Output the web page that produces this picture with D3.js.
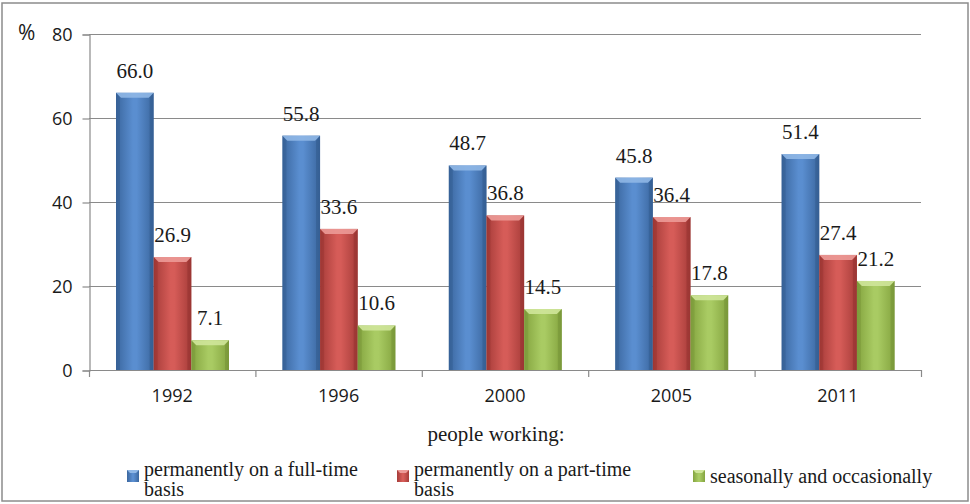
<!DOCTYPE html>
<html>
<head>
<meta charset="utf-8">
<script src="https://cdn.jsdelivr.net/npm/d3@7/dist/d3.min.js"></script>
<style>
  html, body { margin: 0; padding: 0; background: #fff; }
  svg { display: block; }
</style>
</head>
<body>
<svg id="chart" width="970" height="504"></svg>
<script>
const years = ["1992", "1996", "2000", "2005", "2011"];
const fullTime = [66.0, 55.8, 48.7, 45.8, 51.4];
const partTime = [26.9, 33.6, 36.8, 36.4, 27.4];
const seasonal = [7.1, 10.6, 14.5, 17.8, 21.2];
const seriesNames = ["permanently on a full-time basis", "permanently on a part-time basis", "seasonally and occasionally"];
const legendLines = [["permanently on a full-time", "basis"], ["permanently on a part-time", "basis"], ["seasonally and occasionally"]];
const yTicks = [0, 20, 40, 60, 80];
const axisTitle = "people working:";
const yUnit = "%";

const palette = [
  { edge: "#3b679f", mid: "#5a8ed0", light: "#8fb7e6", dark: "#2f5687" },
  { edge: "#a63c39", mid: "#d65c58", light: "#ec9a97", dark: "#8e2f2c" },
  { edge: "#84a43f", mid: "#a9cb63", light: "#cfe59a", dark: "#6f8b33" }
];

const svg = d3.select("#chart");
const defs = svg.append("defs");
palette.forEach((c, i) => {
  const g = defs.append("linearGradient").attr("id", "g" + i).attr("x1", "0").attr("x2", "1").attr("y1", "0").attr("y2", "0");
  g.append("stop").attr("offset", "0").attr("stop-color", c.edge);
  g.append("stop").attr("offset", "0.45").attr("stop-color", c.mid);
  g.append("stop").attr("offset", "0.55").attr("stop-color", c.mid);
  g.append("stop").attr("offset", "1").attr("stop-color", c.edge);
});

// outer border
svg.append("rect").attr("x", 2).attr("y", 3).attr("width", 966).attr("height", 498)
  .attr("fill", "none").attr("stroke", "#8c8c8c").attr("stroke-width", 1.5);

const plot = { left: 89, right: 921, top: 34, bottom: 370 };
const x = d3.scaleBand().domain(years).range([plot.left, plot.right]).padding(0);
const inner = d3.scaleBand().domain(d3.range(3)).range([27, x.bandwidth() - 26.4]).padding(0);
const y = d3.scaleLinear().domain([0, 80]).range([plot.bottom, plot.top]);

const gridColor = "#8a8a8a";
// gridlines
svg.append("g").selectAll("line").data(yTicks.filter(t => t > 0)).join("line")
  .attr("x1", plot.left).attr("x2", plot.right)
  .attr("y1", d => y(d) + 0.5).attr("y2", d => y(d) + 0.5)
  .attr("stroke", gridColor).attr("stroke-width", 1.2);

// y axis
const yAxis = d3.axisLeft(y).tickValues(yTicks).tickSize(7).tickPadding(10).tickFormat(d3.format("d"));
const gy = svg.append("g").attr("transform", `translate(${plot.left + 0.5},0.5)`).call(yAxis);
gy.select(".domain").attr("stroke", gridColor).attr("stroke-width", 1.2);
gy.selectAll(".tick line").attr("stroke", gridColor).attr("stroke-width", 1.2);
gy.selectAll(".tick text").attr("font-family", "'Open Sans', sans-serif").attr("font-size", 18).attr("fill", "#1a1a1a");

svg.append("text").attr("x", 18).attr("y", 40).text(yUnit)
  .attr("font-family", "'Open Sans', sans-serif").attr("font-size", 21).attr("fill", "#1a1a1a");

// bars
const series = [fullTime, partTime, seasonal];
const barsG = svg.append("g");
series.forEach((vals, si) => {
  const c = palette[si];
  const g = barsG.append("g");
  const data = years.map((yr, i) => ({ yr, v: vals[i] }));
  const bx = d => x(d.yr) + inner(si);
  const bw = inner.bandwidth();
  g.selectAll("rect.bar").data(data).join("rect").attr("class", "bar")
    .attr("x", bx).attr("y", d => y(d.v)).attr("width", bw).attr("height", d => y(0) - y(d.v))
    .attr("fill", `url(#g${si})`);
  // top bevel
  g.selectAll("path.top").data(data).join("path").attr("class", "top")
    .attr("d", d => {
      const x0 = bx(d), y0 = y(d.v);
      return `M${x0},${y0}L${x0 + bw},${y0}L${x0 + bw - 5},${y0 + 5}L${x0 + 5},${y0 + 5}Z`;
    }).attr("fill", c.light).attr("opacity", 0.9);
  // side bevels
  g.selectAll("path.left").data(data).join("path").attr("class", "left")
    .attr("d", d => {
      const x0 = bx(d), y0 = y(d.v), y1 = y(0);
      return `M${x0},${y0}L${x0 + 4},${y0 + 5}L${x0 + 4},${y1}L${x0},${y1}Z`;
    }).attr("fill", c.dark).attr("opacity", 0.35);
  g.selectAll("path.right").data(data).join("path").attr("class", "right")
    .attr("d", d => {
      const x0 = bx(d) + bw, y0 = y(d.v), y1 = y(0);
      return `M${x0},${y0}L${x0 - 4},${y0 + 5}L${x0 - 4},${y1}L${x0},${y1}Z`;
    }).attr("fill", c.dark).attr("opacity", 0.45);
  // labels
  g.selectAll("text.lbl").data(data).join("text").attr("class", "lbl")
    .attr("x", d => bx(d) + bw / 2).attr("y", d => y(d.v) - 15)
    .attr("text-anchor", "middle")
    .attr("font-family", "'Liberation Serif', 'Times New Roman', serif").attr("font-size", 21).attr("fill", "#1a1a1a")
    .text(d => d3.format(".1f")(d.v));
});

// x axis
const xTickPositions = years.map(yr => x(yr)).concat([plot.right]);
svg.append("line").attr("x1", plot.left).attr("x2", plot.right).attr("y1", plot.bottom + 0.5).attr("y2", plot.bottom + 0.5)
  .attr("stroke", gridColor).attr("stroke-width", 1.2);
svg.append("g").selectAll("line").data(xTickPositions).join("line")
  .attr("x1", d => d + 0.5).attr("x2", d => d + 0.5).attr("y1", plot.bottom).attr("y2", plot.bottom + 7)
  .attr("stroke", gridColor).attr("stroke-width", 1.2);
svg.append("g").selectAll("text").data(years).join("text")
  .attr("x", d => x(d) + x.bandwidth() / 2).attr("y", 402).attr("text-anchor", "middle")
  .attr("font-family", "'Open Sans', sans-serif").attr("font-size", 18).attr("fill", "#1a1a1a")
  .text(d => d);

svg.append("text").attr("x", 496).attr("y", 441).attr("text-anchor", "middle")
  .attr("font-family", "'Liberation Serif', 'Times New Roman', serif").attr("font-size", 21).attr("fill", "#1a1a1a")
  .text(axisTitle);

// legend
const legendX = [127, 397, 693];
const legendG = svg.append("g");
legendLines.forEach((lines, i) => {
  const c = palette[i];
  const mx = legendX[i], my = 470, ms = 12;
  legendG.append("rect").attr("x", mx).attr("y", my).attr("width", ms).attr("height", ms).attr("fill", `url(#g${i})`);
  legendG.append("path").attr("d", `M${mx},${my}L${mx + ms},${my}L${mx + ms - 3},${my + 3}L${mx + 3},${my + 3}Z`).attr("fill", c.light);
  const t = legendG.append("text")
    .attr("font-family", "'Liberation Serif', 'Times New Roman', serif").attr("font-size", 20).attr("fill", "#1a1a1a");
  const ty = lines.length > 1 ? 476 : 483;
  lines.forEach((ln, k) => {
    t.append("tspan").attr("x", mx + ms + 5).attr("y", ty + k * 20).text(ln);
  });
});
</script>
</body>
</html>
